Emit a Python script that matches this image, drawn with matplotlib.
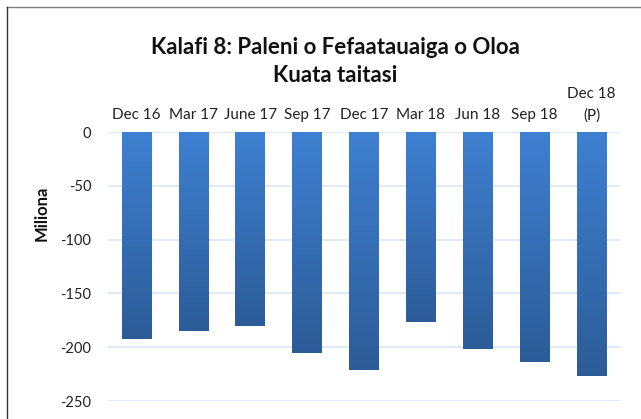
import numpy as np
import matplotlib
matplotlib.use("Agg")
import matplotlib.pyplot as plt
from matplotlib.colors import LinearSegmentedColormap
from matplotlib.lines import Line2D

quarters = ["Dec 16", "Mar 17", "June 17", "Sep 17", "Dec 17",
            "Mar 18", "Jun 18", "Sep 18", "Dec 18\n(P)"]
balance = [-192, -184.5, -180, -205, -221, -177, -202, -214, -227]
y_ticks = [0, -50, -100, -150, -200, -250]

plt.rcParams['font.family'] = ['Lato', 'DejaVu Sans']

fig = plt.figure(figsize=(6.41, 4.19), dpi=100)
ax = fig.add_axes([108 / 641, 18 / 419, 512 / 641, 269 / 419])

x = np.arange(len(quarters))
bars = ax.bar(x, balance, width=0.52, color='#3a78c6', zorder=2)

# vertical gradient inside each bar
grad = LinearSegmentedColormap.from_list('g', ['#2c5c98', '#3e80d2'])
img = np.linspace(0, 1, 256).reshape(-1, 1)
for b in bars:
    x0, w, h = b.get_x(), b.get_width(), b.get_height()
    im = ax.imshow(img, cmap=grad, aspect='auto', origin='lower',
                   extent=[x0, x0 + w, h, 0], zorder=3)
    im.set_clip_path(b)

ax.set_xlim(-0.5, len(quarters) - 0.5)
ax.set_ylim(-250, 0)
ax.set_yticks(y_ticks)
ax.set_yticklabels([str(v) for v in y_ticks])
ax.yaxis.grid(True, color='#dce6f4', linewidth=1.2, zorder=0)
ax.set_axisbelow(True)

ax.xaxis.tick_top()
ax.set_xticks(x)
ax.set_xticklabels(quarters, fontsize=11, color='#222222', va='bottom',
                   linespacing=1.6)
ax.tick_params(axis='x', length=0, pad=7)
ax.tick_params(axis='y', length=0, pad=12, labelsize=10.5, labelcolor='#222222')
for s in ax.spines.values():
    s.set_visible(False)

fig.text(42 / 641, 1 - 213 / 419, "Miliona", rotation=90, fontsize=12,
         fontweight='bold', ha='center', va='center', color='#111111')
fig.text(335 / 641, 1 - 47 / 419, "Kalafi 8: Paleni o Fefaatauaiga o Oloa",
         fontsize=16, fontweight='bold', ha='center', va='center', color='#111111')
fig.text(335 / 641, 1 - 76 / 419, "Kuata taitasi",
         fontsize=16, fontweight='bold', ha='center', va='center', color='#111111')

# chart frame (top and left edges)
fig.add_artist(Line2D([7 / 641, 1], [1 - 7 / 419, 1 - 7 / 419],
                      transform=fig.transFigure, color='#7f7f7f', linewidth=1))
fig.add_artist(Line2D([7 / 641, 7 / 641], [0, 1 - 7 / 419],
                      transform=fig.transFigure, color='#333333', linewidth=1))

fig.savefig('out.png', dpi=100)
